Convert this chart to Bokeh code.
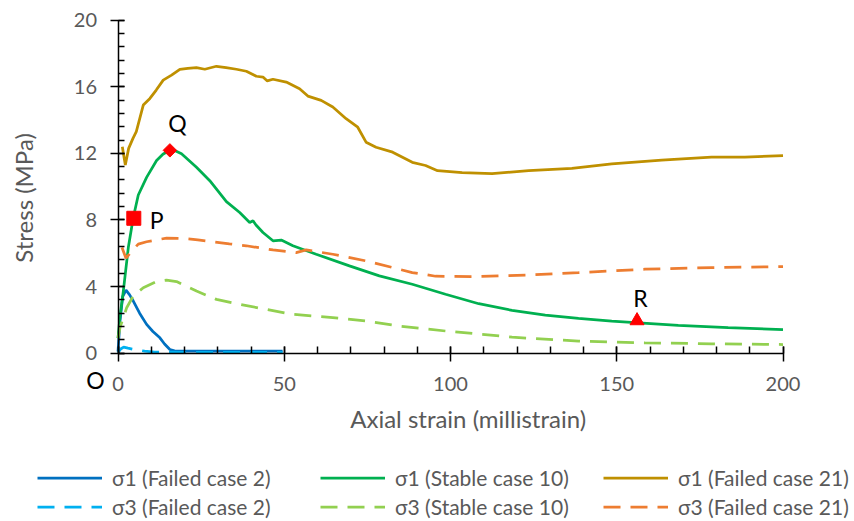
from bokeh.plotting import figure
from bokeh.models import Legend, LegendItem, FixedTicker, Label, ColumnDataSource, Range1d
from bokeh.embed import file_html
from bokeh.resources import INLINE
from bokeh.core.properties import value

# ---------------- data ----------------
# sigma1, Failed case 2
s1_c2_x = [0, 0.6, 1.4, 2.4, 3.5, 4.6, 6.5, 8.6, 10.5, 12.6, 14.0, 15.6, 17.0, 18.6, 25, 35, 45, 49.5]
s1_c2_y = [0.1, 1.93, 3.4, 3.78, 3.5, 3.13, 2.4, 1.73, 1.3, 0.92, 0.55, 0.22, 0.14, 0.12, 0.12, 0.12, 0.12, 0.12]
# sigma3, Failed case 2
s3_c2_x = [0, 0.8, 1.7, 3.0, 5.0, 8.0, 11.0, 20, 30, 40, 49.5]
s3_c2_y = [0.02, 0.25, 0.36, 0.3, 0.22, 0.12, 0.06, 0.05, 0.05, 0.05, 0.05]
# sigma1, Stable case 10
s1_c10_x = [0, 0.6, 1.6, 3.1, 4.6, 6.1, 8.6, 11.6, 13.5, 15.4, 17.2, 19.1, 23.6, 27.6, 32.6, 36.6,
            39.6, 40.6, 41.5, 43.6, 46.6, 49.1, 52.6, 59.6, 69.6, 78.6, 88.5, 98.5, 108.5, 118.5,
            128.5, 138.5, 148.5, 155.5, 168.5, 183.5, 200]
s1_c10_y = [0.9, 2.2, 3.73, 6.34, 8.15, 9.5, 10.56, 11.57, 11.95, 12.17, 12.15, 11.97, 11.16, 10.36, 9.1, 8.45,
            7.85, 7.95, 7.7, 7.25, 6.75, 6.79, 6.45, 5.94, 5.24, 4.64, 4.14, 3.54, 2.97, 2.57,
            2.29, 2.09, 1.93, 1.83, 1.67, 1.53, 1.41]
# sigma3, Stable case 10
s3_c10_x = [0, 0.6, 2.6, 4.6, 7.6, 11.6, 14.6, 17.6, 23.6, 29.6, 36.6, 44.6, 52.6, 64.6, 74.6, 84.6,
            98.5, 118.5, 138.5, 158.5, 178.5, 200]
s3_c10_y = [0.9, 1.53, 2.73, 3.43, 3.93, 4.3, 4.38, 4.3, 3.73, 3.23, 2.93, 2.63, 2.33, 2.13, 1.93, 1.63,
            1.33, 0.96, 0.72, 0.62, 0.56, 0.52]
# sigma1, Failed case 21
s1_c21_x = [1.3, 2.2, 3.2, 4.5, 5.5, 7.6, 9.6, 11.5, 13.6, 16.1, 18.6, 21.0, 23.6, 26.1, 29.6, 32.5,
            35.6, 38.6, 41.6, 43.6, 44.9, 46.6, 50.6, 54.6, 57.1, 61.1, 64.6, 68.6, 72.1, 74.6, 77.6,
            82.6, 88.5, 92.5, 96.1, 103.5, 112.5, 123.5, 136.5, 148.5, 163.5, 178.5, 188.5, 200]
s1_c21_y = [12.4, 11.3, 12.3, 12.9, 13.3, 14.9, 15.3, 15.8, 16.4, 16.7, 17.05, 17.1, 17.15, 17.05, 17.23, 17.15,
            17.05, 16.93, 16.63, 16.58, 16.35, 16.45, 16.28, 15.88, 15.44, 15.18, 14.78, 14.08, 13.57, 12.67, 12.37,
            12.07, 11.46, 11.27, 10.96, 10.84, 10.78, 10.96, 11.1, 11.37, 11.6, 11.77, 11.77, 11.87]
# sigma3, Failed case 21
s3_c21_x = [1.2, 2.4, 4.0, 6.1, 8.6, 11.5, 14.6, 19.6, 24.0, 28.6, 33.5, 38.6, 46.6, 53.6, 56.6, 64.6,
            74.6, 84.6, 88.5, 95.5, 108.5, 123.5, 138.5, 158.5, 178.5, 200]
s3_c21_y = [6.34, 5.7, 6.1, 6.55, 6.69, 6.8, 6.91, 6.89, 6.8, 6.69, 6.57, 6.45, 6.2, 6.04, 6.2, 5.94,
            5.54, 5.04, 4.84, 4.62, 4.6, 4.7, 4.84, 5.04, 5.14, 5.2]

# marked points P, Q, R
mark_x = [4.75, 15.6, 156.1]
mark_y = [8.1, 12.18, 1.95]
mark_shape = ["square", "square", "triangle"]
mark_angle = [0.0, 0.785398, 0.0]
mark_size = [14, 9.5, 14]
# point labels
lab_text = ["P", "Q", "R"]
lab_x = [11.6, 17.9, 157.1]
lab_y = [7.97, 13.8, 3.32]
origin_text = "O"
origin_x, origin_y = -6.8, -1.64

# axis titles (text, x, y, angle)
x_title = ("Axial strain (millistrain)", 105.3, -3.92, 0.0)
y_title = ("Stress (MPa)", -28.4, 9.32, 1.5708)

y_ticks = [0, 4, 8, 12, 16, 20]
y_minor = [0, 0.8, 1.6, 2.4, 3.2, 4, 4.8, 5.6, 6.4, 7.2, 8, 8.8, 9.6, 10.4, 11.2, 12,
           12.8, 13.6, 14.4, 15.2, 16, 16.8, 17.6, 18.4, 19.2, 20]
x_ticks = [0, 50, 100, 150, 200]
x_minor = [0, 10, 20, 30, 40, 50, 60, 70, 80, 90, 100, 110, 120, 130, 140, 150, 160, 170, 180, 190, 200]

series = [
    ("σ1 (Failed case 2)", s1_c2_x, s1_c2_y, "#0070C0", "solid"),
    ("σ3 (Failed case 2)", s3_c2_x, s3_c2_y, "#00B0F0", "17 10"),
    ("σ1 (Stable case 10)", s1_c10_x, s1_c10_y, "#00B050", "solid"),
    ("σ3 (Stable case 10)", s3_c10_x, s3_c10_y, "#92D050", "17 10"),
    ("σ1 (Failed case 21)", s1_c21_x, s1_c21_y, "#BF9000", "solid"),
    ("σ3 (Failed case 21)", s3_c21_x, s3_c21_y, "#ED7D31", "17 10"),
]

FONT = "Lato"
GREY = "#595959"

# the frame covers the whole canvas; axes are pinned at the origin
p = figure(width=854, height=521, x_range=Range1d(-35.34, 221.5), y_range=Range1d(-10.11, 21.18),
           output_backend="svg", toolbar_location=None,
           min_border_left=0, min_border_right=0, min_border_top=0, min_border_bottom=0)
p.xgrid.visible = False
p.ygrid.visible = False
p.outline_line_color = None

renderers = {}
for name, xs, ys, col, dash in series:
    r = p.line(xs, ys, line_color=col, line_width=2.75, line_dash=dash)
    renderers[name] = r

src = ColumnDataSource(dict(x=mark_x, y=mark_y, m=mark_shape, s=mark_size, a=mark_angle))
p.scatter("x", "y", marker="m", size="s", angle="a", source=src, fill_color="#FF0000", line_color="#FF0000")

lsrc = ColumnDataSource(dict(x=lab_x, y=lab_y, t=lab_text))
p.text("x", "y", text="t", source=lsrc, text_font=value(FONT), text_font_size="23px",
       text_color="black", text_align="center", text_baseline="middle")

p.add_layout(Label(x=origin_x, y=origin_y, text=origin_text, text_font=FONT, text_font_size="23px",
                   text_color="black", text_align="center", text_baseline="middle"))

for txt, tx, ty, ang in (x_title, y_title):
    p.add_layout(Label(x=tx, y=ty, text=txt, angle=ang, text_font=FONT, text_font_size="24px",
                       text_color=GREY, text_align="center", text_baseline="middle"))

# axes
for ax in (p.xaxis[0], p.yaxis[0]):
    ax.axis_line_color = "black"
    ax.axis_line_width = 1.5
    ax.major_tick_line_color = "black"
    ax.major_tick_line_width = 1.5
    ax.minor_tick_line_color = "black"
    ax.minor_tick_line_width = 1.5
    ax.major_label_text_font = FONT
    ax.major_label_text_font_size = "20px"
    ax.major_label_text_color = GREY

p.yaxis[0].fixed_location = 0
p.yaxis[0].bounds = (0, 20)
p.yaxis[0].ticker = FixedTicker(ticks=y_ticks, minor_ticks=y_minor)
p.yaxis[0].major_tick_out = 8
p.yaxis[0].major_tick_in = 6
p.yaxis[0].minor_tick_out = 0
p.yaxis[0].minor_tick_in = 6
p.yaxis[0].major_label_standoff = 13

p.xaxis[0].fixed_location = 0
p.xaxis[0].bounds = (0, 200)
p.xaxis[0].ticker = FixedTicker(ticks=x_ticks, minor_ticks=x_minor)
p.xaxis[0].major_tick_out = 8
p.xaxis[0].major_tick_in = 7
p.xaxis[0].minor_tick_out = 0
p.xaxis[0].minor_tick_in = 7
p.xaxis[0].major_label_standoff = 16

# legend: two rows of three
legend_order = ["σ1 (Failed case 2)", "σ1 (Stable case 10)", "σ1 (Failed case 21)",
                "σ3 (Failed case 2)", "σ3 (Stable case 10)", "σ3 (Failed case 21)"]
leg = Legend(items=[LegendItem(label=n, renderers=[renderers[n]]) for n in legend_order],
             orientation="horizontal", ncols=3, location=(37, 0),
             glyph_width=65, glyph_height=29, label_height=29, label_width=208,
             label_standoff=10, spacing=0, padding=0, margin=0,
             border_line_color=None, background_fill_alpha=0,
             label_text_font=FONT, label_text_font_size="21px", label_text_color=GREY)
p.add_layout(leg)

open("out.html", "w").write(file_html(p, INLINE))
